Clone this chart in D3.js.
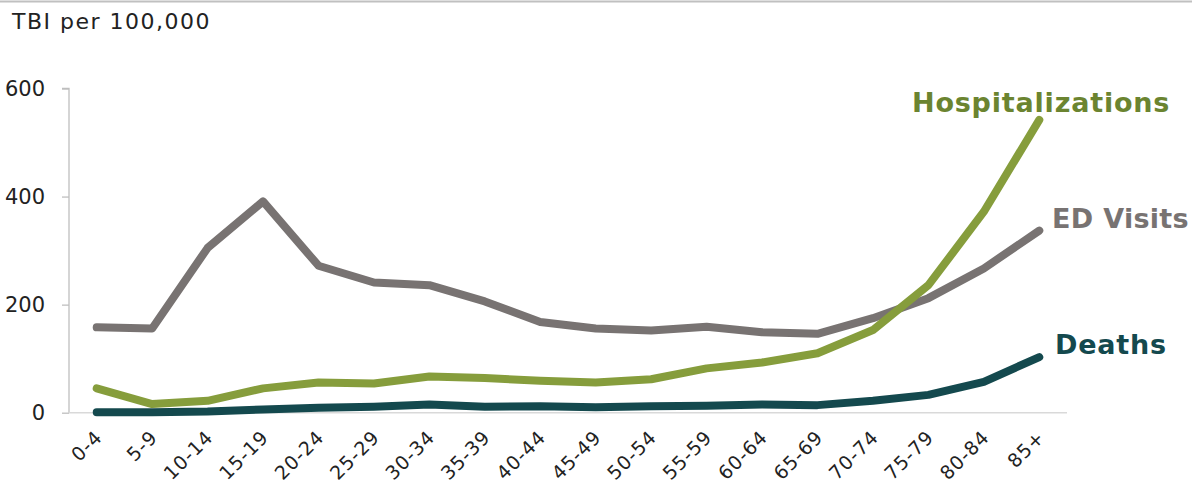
<!DOCTYPE html>
<html>
<head>
<meta charset="utf-8">
<script src="https://cdn.jsdelivr.net/npm/d3@7"></script>
<style>
  body { margin: 0; background: #fff; }
  svg { display: block; font-family: "DejaVu Sans", sans-serif; }
</style>
</head>
<body>
<div id="chart-container"></div>
<script>
// data
const ageGroups = ["0-4", "5-9", "10-14", "15-19", "20-24", "25-29", "30-34", "35-39", "40-44",
  "45-49", "50-54", "55-59", "60-64", "65-69", "70-74", "75-79", "80-84", "85+"];
const edVisits = [158, 156, 305, 391, 272, 241, 236, 206, 168, 156, 152, 159, 149, 146, 175, 212, 267, 337];
const hospitalizations = [45, 16, 22, 45, 56, 54, 67, 64, 59, 56, 62, 82, 93, 110, 153, 236, 372, 542];
const deaths = [1, 1, 2, 6, 9, 11, 15, 11, 12, 10, 12, 13, 15, 14, 22, 33, 57, 103];
const yTicks = [0, 200, 400, 600];

const series = [
  { name: "ED Visits", values: edVisits, color: "#787372", labelColor: "#787372" },
  { name: "Hospitalizations", values: hospitalizations, color: "#869d3c", labelColor: "#6b8430" },
  { name: "Deaths", values: deaths, color: "#14494e", labelColor: "#14494e" }
];

const W = 1192, H = 489;
const x0 = 69, x1 = 1067, yTop = 88.5, yBottom = 412.7;

const svg = d3.select("#chart-container")
  .append("svg")
  .attr("width", W)
  .attr("height", H);

// thin frame line at top
svg.append("line")
  .attr("x1", 0).attr("x2", W)
  .attr("y1", 1.5).attr("y2", 1.5)
  .attr("stroke", "#c0c0c0")
  .attr("stroke-width", 2);

const xScale = d3.scalePoint().domain(ageGroups).range([x0, x1]).padding(0.5);
const yScale = d3.scaleLinear().domain([0, 600]).range([yBottom, yTop]);

// y axis
svg.append("g")
  .attr("transform", `translate(${x0},0)`)
  .call(d3.axisLeft(yScale).tickValues(yTicks).tickSize(7).tickPadding(17).tickFormat(d3.format("d")))
  .call((g) => g.selectAll("line, path").attr("stroke", "#bfbfbf").attr("stroke-width", 1.3))
  .call((g) => g.select(".domain").attr("d", `M-7,${yTop}H0V${yBottom}`))
  .selectAll("text")
    .attr("fill", "#222")
    .style("font-size", "21px")
    .style("font-family", "DejaVu Sans, sans-serif");

// baseline
svg.append("line")
  .attr("x1", x0).attr("x2", x1)
  .attr("y1", yBottom).attr("y2", yBottom)
  .attr("stroke", "#d9d9d9")
  .attr("stroke-width", 1.5);

// x labels, rotated
svg.append("g")
  .selectAll("text")
  .data(ageGroups)
  .join("text")
  .attr("transform", (d) => `translate(${xScale(d) + 2},${yBottom + 21}) rotate(-45)`)
  .attr("text-anchor", "end")
  .attr("dy", "0.35em")
  .attr("fill", "#222")
  .style("font-size", "19px")
  .style("letter-spacing", "1px")
  .text((d) => d);

// axis title
svg.append("text")
  .attr("x", 12)
  .attr("y", 29)
  .attr("fill", "#222")
  .style("font-size", "22px")
  .style("letter-spacing", "1.5px")
  .text("TBI per 100,000");

// lines
const line = d3.line()
  .x((d, i) => xScale(ageGroups[i]))
  .y((d) => yScale(d));

svg.append("g")
  .selectAll("path")
  .data(series)
  .join("path")
  .attr("d", (d) => line(d.values))
  .attr("fill", "none")
  .attr("stroke", (d) => d.color)
  .attr("stroke-width", 8)
  .attr("stroke-linecap", "round")
  .attr("stroke-linejoin", "round");

// direct labels
const labelPos = {
  "Hospitalizations": { x: 912, y: 112 },
  "ED Visits": { x: 1052, y: 228 },
  "Deaths": { x: 1055, y: 354 }
};

svg.append("g")
  .selectAll("text")
  .data(series)
  .join("text")
  .attr("x", (d) => labelPos[d.name].x)
  .attr("y", (d) => labelPos[d.name].y)
  .attr("fill", (d) => d.labelColor)
  .style("font-size", "27px")
  .style("font-weight", "bold")
  .style("letter-spacing", (d) => d.name === "ED Visits" ? "0.3px" : "0.8px")
  .text((d) => d.name);
</script>
</body>
</html>
